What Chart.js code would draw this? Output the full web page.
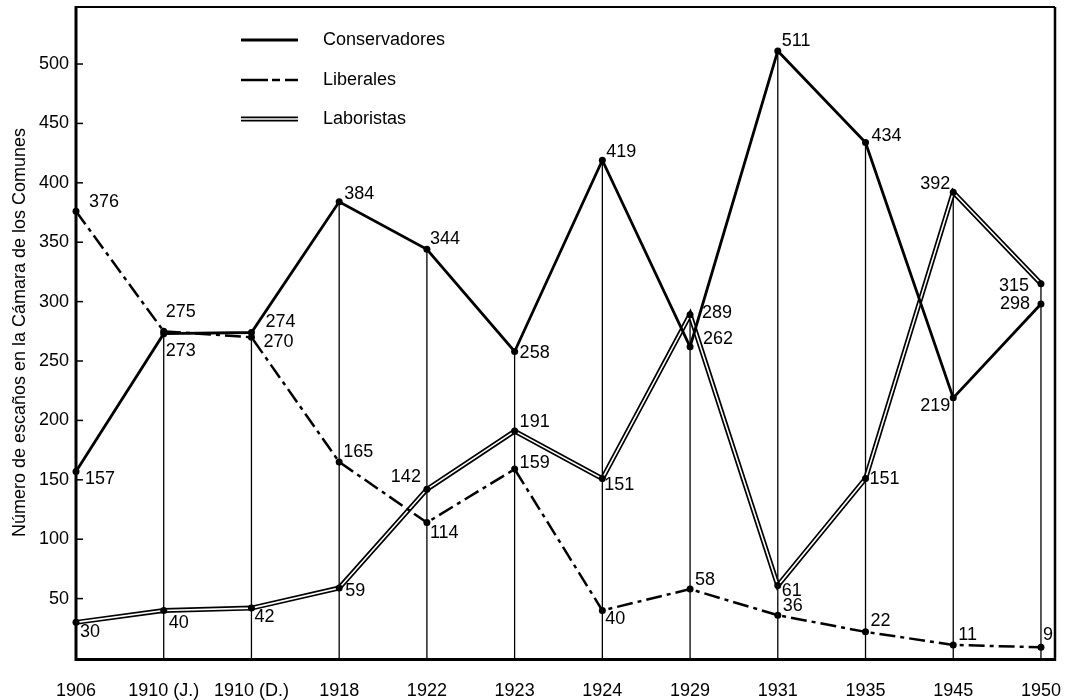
<!DOCTYPE html>
<html><head><meta charset="utf-8">
<script src="https://cdn.jsdelivr.net/npm/chart.js@4.4.1/dist/chart.umd.min.js"></script>
<style>html,body{margin:0;padding:0;background:#fff}</style>
</head><body>
<canvas id="c" width="1071" height="700"></canvas>
<script>
// ---- data ----
const categories = ['1906','1910 (J.)','1910 (D.)','1918','1922','1923','1924','1929','1931','1935','1945','1950'];
const conservadores = [157, 273, 274, 384, 344, 258, 419, 262, 511, 434, 219, 298];
const liberales     = [376, 275, 270, 165, 114, 159, 40, 58, 36, 22, 11, 9];
const laboristas    = [30, 40, 42, 59, 142, 191, 151, 289, 61, 151, 392, 315];
const yTickValues   = [50, 100, 150, 200, 250, 300, 350, 400, 450, 500];
const seriesNames   = ['Conservadores', 'Liberales', 'Laboristas'];
const yTitle = 'Número de escaños en la Cámara de los Comunes';

// ---- label placement (style, not data): [dx, dy, align] ----
const placeCon = [[9,8,'l'],[2,17,'l'],[14,-10,'l'],[5,-8,'l'],[3,-10,'l'],[5,2,'l'],[4,-8,'l'],[13,-8,'l'],[4,-10,'l'],[6,-6,'l'],[-3,8,'r'],[-11,0,'r']];
const placeLib = [[13,-9,'l'],[2,-19,'l'],[12,5,'l'],[4,-10,'l'],[3,10,'l'],[5,-6,'l'],[3,9,'l'],[5,-9,'l'],[5,-9,'l'],[5,-11,'l'],[5,-10,'l'],[2,-12,'l']];
const placeLab = [[4,10,'l'],[5,13,'l'],[3,9,'l'],[6,3,'l'],[-6,-12,'r'],[5,-9,'l'],[2,6,'l'],[12,-2,'l'],[4,5,'l'],[4,0,'l'],[-3,-8,'r'],[-12,2,'r']];

const FONT = "'Liberation Sans', Arial, Helvetica, sans-serif";
const DASH = [16, 5, 4, 5];
Chart.defaults.font.family = FONT;
Chart.defaults.font.size = 18;
Chart.defaults.color = '#000';

const idx = categories.map((_, i) => i);
const pts = arr => arr.map((v, i) => ({x: i, y: v}));

const dropLines = {
  id: 'dropLines',
  beforeDatasetsDraw(chart) {
    const {ctx, scales: {x, y}} = chart;
    ctx.save();
    ctx.strokeStyle = '#000';
    ctx.lineWidth = 1.3;
    idx.forEach(i => {
      const top = Math.max(conservadores[i], liberales[i], laboristas[i]);
      const px = x.getPixelForValue(i);
      ctx.beginPath();
      ctx.moveTo(px, y.getPixelForValue(0));
      ctx.lineTo(px, y.getPixelForValue(top));
      ctx.stroke();
    });
    ctx.restore();
  }
};

const frameAndLabels = {
  id: 'frameAndLabels',
  afterDatasetsDraw(chart) {
    const {ctx, chartArea: a, scales: {x, y}} = chart;
    ctx.save();
    // value labels
    ctx.font = '18px ' + FONT;
    ctx.fillStyle = '#000';
    ctx.textBaseline = 'middle';
    const groups = [[conservadores, placeCon], [liberales, placeLib], [laboristas, placeLab]];
    groups.forEach(([vals, place]) => {
      vals.forEach((v, i) => {
        const px = x.getPixelForValue(i), py = y.getPixelForValue(v);
        const [dx, dy, al] = place[i];
        ctx.textAlign = al === 'r' ? 'right' : 'left';
        ctx.fillText(String(v), px + dx, py + dy);
      });
    });
    // frame
    ctx.strokeStyle = '#000';
    ctx.lineWidth = 2;
    ctx.beginPath(); ctx.moveTo(a.left, a.top); ctx.lineTo(a.right, a.top); ctx.stroke();
    ctx.lineWidth = 2.5;
    ctx.beginPath(); ctx.moveTo(a.right, a.top); ctx.lineTo(a.right, a.bottom); ctx.stroke();
    ctx.lineWidth = 3;
    ctx.beginPath(); ctx.moveTo(a.left, a.top - 1); ctx.lineTo(a.left, a.bottom + 1.5); ctx.lineTo(a.right + 1.2, a.bottom + 1.5); ctx.stroke();
    // inward y ticks
    ctx.lineWidth = 1.5;
    yTickValues.forEach(v => {
      const py = y.getPixelForValue(v);
      ctx.beginPath(); ctx.moveTo(a.left, py); ctx.lineTo(a.left + 7, py); ctx.stroke();
    });
    // legend
    const lx0 = 241, lx1 = 298, tx = 323;
    const rows = [40, 80, 119];
    ctx.textAlign = 'left';
    ctx.lineWidth = 2.8;
    ctx.beginPath(); ctx.moveTo(lx0, rows[0]); ctx.lineTo(lx1, rows[0]); ctx.stroke();
    ctx.lineWidth = 2.5; ctx.setLineDash([27, 4, 8, 5, 13, 20]);
    ctx.beginPath(); ctx.moveTo(lx0, rows[1]); ctx.lineTo(lx1, rows[1]); ctx.stroke();
    ctx.setLineDash([]);
    ctx.lineWidth = 5;
    ctx.beginPath(); ctx.moveTo(lx0, rows[2]); ctx.lineTo(lx1, rows[2]); ctx.stroke();
    ctx.strokeStyle = '#fff'; ctx.lineWidth = 1.6;
    ctx.beginPath(); ctx.moveTo(lx0 - 1, rows[2]); ctx.lineTo(lx1 + 1, rows[2]); ctx.stroke();
    seriesNames.forEach((n, k) => ctx.fillText(n, tx, rows[k]));
    ctx.restore();
  }
};

const noPad = s => { s.paddingLeft = 0; s.paddingRight = 0; s.paddingTop = 0; s.paddingBottom = 0; };

new Chart(document.getElementById('c'), {
  type: 'line',
  data: {
    datasets: [
      { label: seriesNames[0], data: pts(conservadores), borderColor: '#000', borderWidth: 2.8,
        pointRadius: 3.5, pointBackgroundColor: '#000', pointBorderWidth: 0, tension: 0, clip: false, order: 1 },
      { label: seriesNames[1], data: pts(liberales), borderColor: '#000', borderWidth: 2.5, borderDash: DASH,
        pointRadius: 3.5, pointBackgroundColor: '#000', pointBorderWidth: 0, tension: 0, clip: false, order: 2 },
      { label: seriesNames[2] + ' (borde)', data: pts(laboristas), borderColor: '#000', borderWidth: 5,
        pointRadius: 0, tension: 0, clip: false, order: 4 },
      { label: seriesNames[2], data: pts(laboristas), borderColor: '#fff', borderWidth: 1.6,
        pointRadius: 3.5, pointBackgroundColor: '#000', pointBorderWidth: 0, tension: 0, clip: false, order: 3 }
    ]
  },
  options: {
    responsive: false,
    animation: false,
    layout: { padding: { top: 7, right: 16, left: 0, bottom: 0 } },
    plugins: { legend: { display: false }, tooltip: { enabled: false } },
    scales: {
      x: {
        type: 'linear', min: 0, max: 11.16,
        afterBuildTicks: s => { s.ticks = idx.map(i => ({ value: i })); },
        afterFit: s => { s.height = 42; noPad(s); },
        grid: { display: false, drawTicks: false }, border: { display: false },
        ticks: { padding: 22, maxRotation: 0, autoSkip: false, font: { size: 18 },
          callback: v => categories[v] ?? '' }
      },
      y: {
        min: 0, max: 548,
        afterBuildTicks: s => { s.ticks = yTickValues.map(v => ({ value: v })); },
        afterFit: s => { s.width = 76; noPad(s); },
        grid: { display: false, drawTicks: false }, border: { display: false },
        ticks: { padding: 7, font: { size: 18 } },
        title: { display: true, text: yTitle, font: { size: 18 }, padding: { top: 9, bottom: 0 } }
      }
    }
  },
  plugins: [dropLines, frameAndLabels]
});
</script>
</body></html>
